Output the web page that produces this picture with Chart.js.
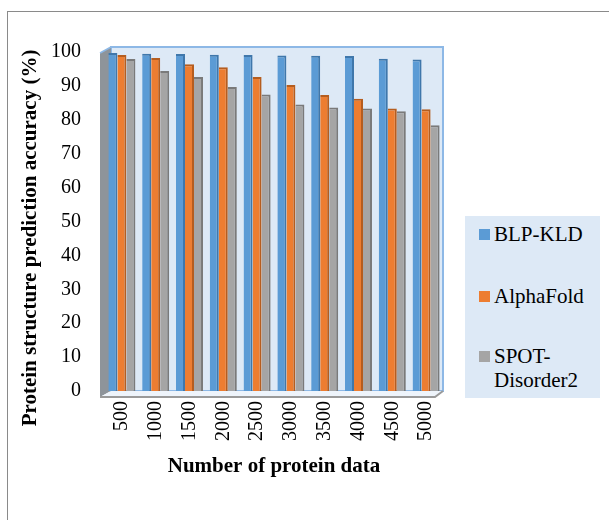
<!DOCTYPE html>
<html>
<head>
<meta charset="utf-8">
<script src="https://cdn.jsdelivr.net/npm/chart.js@4/dist/chart.umd.min.js"></script>
<style>
  html, body { margin: 0; padding: 0; background: #fff; }
  #wrap { position: relative; width: 609px; height: 520px; overflow: hidden; }
  #frame { position: absolute; left: 7px; top: 11px; right: -2px; bottom: -2px;
    border-left: 1px solid #8a8a8a; border-top: 1px solid #8a8a8a; }
  #legend { position: absolute; left: 465px; top: 216px; width: 135px; height: 182px;
    background: #dde9f6; font-family: "Liberation Serif", "DejaVu Serif", serif;
    font-size: 21px; color: #000; }
  .item { position: absolute; left: 14px; line-height: 24px; padding-left: 15px; }
  .item i { position: absolute; left: 0; top: 7px; width: 11px; height: 11px; }
</style>
</head>
<body>
<div id="wrap">
  <div id="frame"></div>
  <canvas id="c" width="609" height="520"></canvas>
  <div id="legend"></div>
</div>
<script>
// Protein structure prediction accuracy (%) vs number of protein data

const labels = ['500', '1000', '1500', '2000', '2500', '3000', '3500', '4000', '4500', '5000'];
const blpKld = [99.7, 99.5, 99.4, 99.2, 99.1, 99.0, 98.9, 98.8, 98.0, 97.8];
const alphaFold = [99.1, 98.2, 96.4, 95.5, 92.6, 90.3, 87.3, 86.2, 83.3, 83.1];
const spotDisorder2 = [97.9, 94.4, 92.6, 89.7, 87.5, 84.5, 83.6, 83.3, 82.5, 78.4];

const seriesNames = ['BLP-KLD', 'AlphaFold', 'SPOT-Disorder2'];
const colors = ['#5b9bd5', '#ed7d31', '#a5a5a5'];
const sides = ['#3f77ab', '#b55d1f', '#7a7a7a'];

const FONT = '"Liberation Serif", "DejaVu Serif", serif';
const yTitle = 'Protein structure prediction accuracy (%)';

// fake 3D walls / floor behind the bars, like the office chart
const walls = {
  id: 'walls',
  beforeDatasetsDraw(chart) {
    const { ctx, chartArea: a } = chart;
    ctx.save();
    // back wall
    ctx.fillStyle = '#dde9f6';
    ctx.fillRect(a.left + 6, a.top - 5, a.right - a.left - 6, a.bottom - a.top + 5);
    ctx.strokeStyle = '#8db8e6';
    ctx.lineWidth = 2;
    ctx.strokeRect(a.left + 6, a.top - 5, a.right - a.left - 6, a.bottom - a.top + 5);
    // left wall
    ctx.beginPath();
    ctx.moveTo(a.left - 5, a.top + 1);
    ctx.lineTo(a.left + 6, a.top - 5);
    ctx.lineTo(a.left + 6, a.bottom);
    ctx.lineTo(a.left - 5, a.bottom + 6);
    ctx.closePath();
    ctx.fillStyle = '#8e949a';
    ctx.fill();
    ctx.strokeStyle = '#8db8e6';
    ctx.lineWidth = 1.5;
    ctx.beginPath();
    ctx.moveTo(a.left - 5, a.top + 1);
    ctx.lineTo(a.left + 6, a.top - 5);
    ctx.stroke();
    // floor
    ctx.beginPath();
    ctx.moveTo(a.left - 5, a.bottom + 6);
    ctx.lineTo(a.left + 6, a.bottom);
    ctx.lineTo(a.right, a.bottom);
    ctx.lineTo(a.right - 8, a.bottom + 6);
    ctx.closePath();
    ctx.fillStyle = '#eef4fb';
    ctx.fill();
    ctx.strokeStyle = '#9a9a9a';
    ctx.lineWidth = 2;
    ctx.beginPath();
    ctx.moveTo(a.left - 5, a.bottom + 6);
    ctx.lineTo(a.right - 8, a.bottom + 6);
    ctx.lineTo(a.right, a.bottom);
    ctx.stroke();
    ctx.restore();
  },
  // y title sits a bit lower than chart.js would centre it
  afterDraw(chart) {
    const { ctx } = chart;
    ctx.save();
    ctx.translate(31, 238);
    ctx.rotate(-Math.PI / 2);
    ctx.font = 'bold 21px ' + FONT;
    ctx.fillStyle = '#000';
    ctx.textAlign = 'center';
    ctx.textBaseline = 'middle';
    ctx.fillText(yTitle, 0, 0);
    ctx.restore();
  }
};

const datasets = [blpKld, alphaFold, spotDisorder2].map((d, i) => ({
  label: seriesNames[i],
  data: d,
  backgroundColor: colors[i],
  borderColor: sides[i],
  borderWidth: { top: 2, right: 2, left: 0, bottom: 0 },
  borderSkipped: false,
  barPercentage: 1.0,
  categoryPercentage: 0.8,
}));

new Chart(document.getElementById('c'), {
  type: 'bar',
  data: { labels, datasets },
  plugins: [walls],
  options: {
    responsive: false,
    animation: false,
    layout: { padding: { top: 52, right: 166, bottom: 0, left: 0 } },
    plugins: { legend: { display: false }, tooltip: { enabled: false } },
    scales: {
      x: {
        grid: { display: false, drawTicks: false },
        border: { display: false },
        ticks: { color: '#000', font: { family: FONT, size: 20 }, minRotation: 90, maxRotation: 90, padding: 10 },
        title: { display: true, text: 'Number of protein data', color: '#000',
          font: { family: FONT, size: 21, weight: 'bold' }, padding: { top: 0, bottom: 41 } },
        afterFit(s) { s.height = 129; },
      },
      y: {
        min: 0, max: 100,
        grid: { display: false, drawTicks: false },
        border: { display: false },
        ticks: { stepSize: 10, color: '#000', font: { family: FONT, size: 20 }, padding: 24 },
        afterFit(s) { s.width = 105; },
      },
    },
  },
});

// legend box on the right
const tops = [222, 284, 344];
document.getElementById('legend').innerHTML = seriesNames.map((n, i) =>
  `<div class="item" style="top:${tops[i] - 216}px;"><i style="background:${colors[i]}"></i>${n.replace('SPOT-', 'SPOT-<br>')}</div>`
).join('');
</script>
</body>
</html>
